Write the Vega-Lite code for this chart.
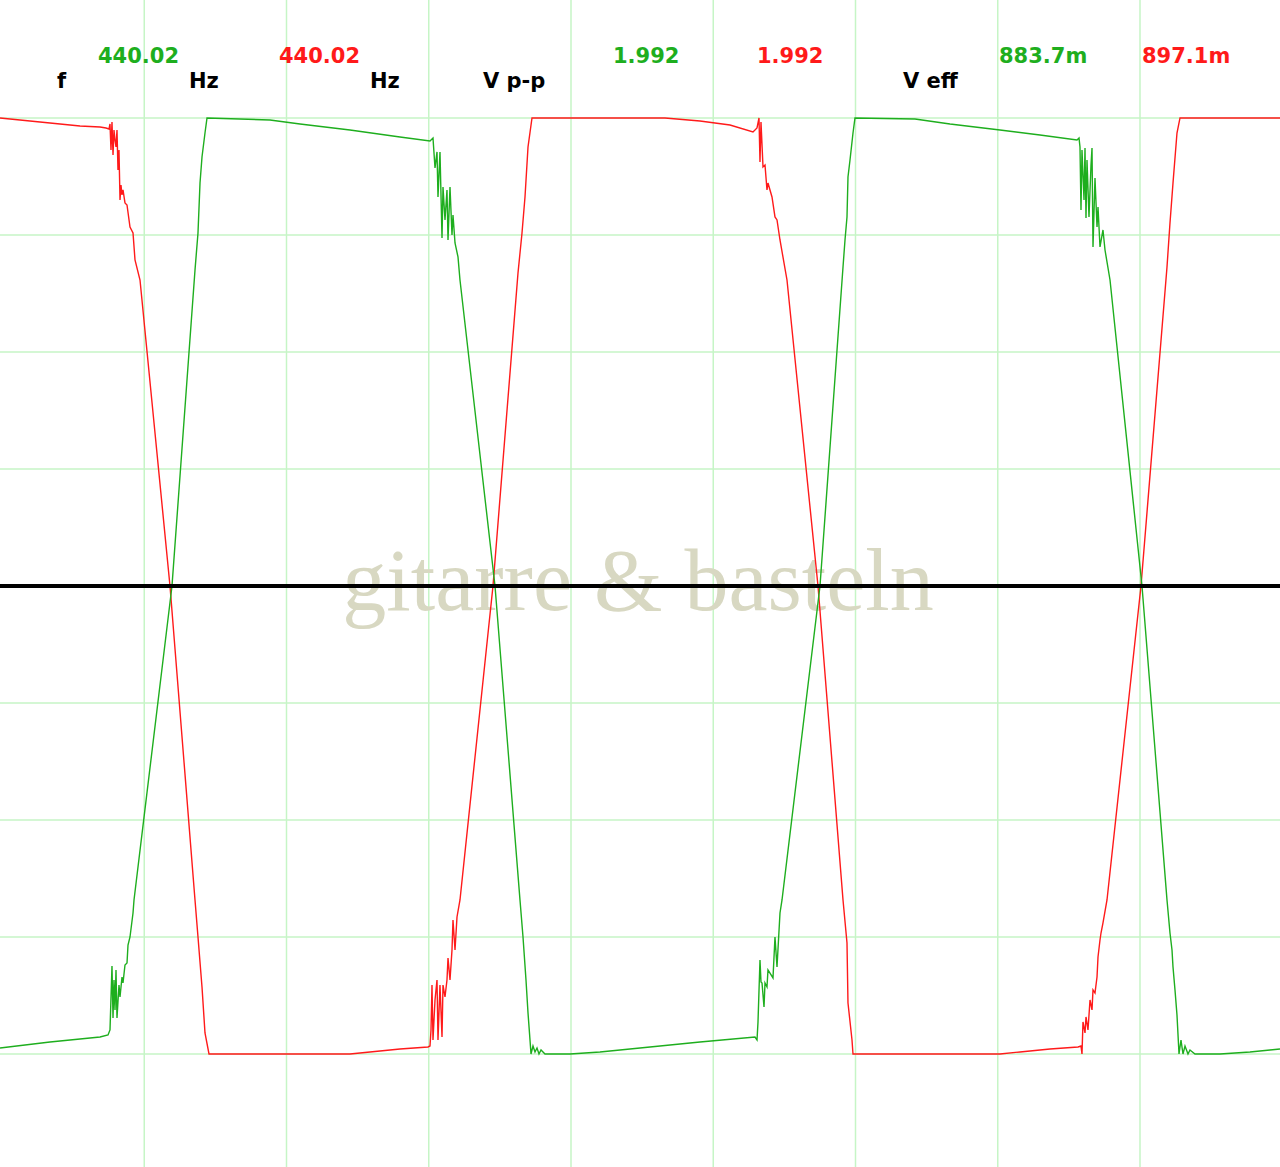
{
  "$schema": "https://vega.github.io/schema/vega-lite/v6.json",
  "width": 1280,
  "height": 1167,
  "autosize": {"type": "none"},
  "padding": 0,
  "background": "white",
  "config": {"view": {"stroke": null}},
  "datasets": {
    "gx": [{"t": 0.5}, {"t": 1.0}, {"t": 1.5}, {"t": 2.0}, {"t": 2.5}, {"t": 3.0}, {"t": 3.5}, {"t": 4.0}],
    "gy": [{"v": -1}, {"v": -0.75}, {"v": -0.5}, {"v": -0.25}, {"v": 0}, {"v": 0.25}, {"v": 0.5}, {"v": 0.75}, {"v": 1}],
    "zero": [{"v": 0}],
    "wm": [{"label": "gitarre & basteln", "t": 2.2355, "v": -0.0513}],
    "labels": [
      {"label": "f", "t": 0.1933, "v": 1.0641, "ch": "N"},
      {"label": "440.02", "t": 0.3374, "v": 1.1175, "ch": "L"},
      {"label": "Hz", "t": 0.6573, "v": 1.0641, "ch": "N"},
      {"label": "440.02", "t": 0.9736, "v": 1.1175, "ch": "R"},
      {"label": "Hz", "t": 1.2935, "v": 1.0641, "ch": "N"},
      {"label": "V p-p", "t": 1.6907, "v": 1.0641, "ch": "N"},
      {"label": "1.992", "t": 2.1476, "v": 1.1175, "ch": "L"},
      {"label": "1.992", "t": 2.6538, "v": 1.1175, "ch": "R"},
      {"label": "V eff", "t": 3.1670, "v": 1.0641, "ch": "N"},
      {"label": "883.7m", "t": 3.5044, "v": 1.1175, "ch": "L"},
      {"label": "897.1m", "t": 4.0070, "v": 1.1175, "ch": "R"}
    ],
    "traces": [
      {"t": -0.007, "v": 1.0, "ch": "R"},
      {"t": 0.0633, "v": 0.9957, "ch": "R"},
      {"t": 0.1336, "v": 0.9915, "ch": "R"},
      {"t": 0.2039, "v": 0.9872, "ch": "R"},
      {"t": 0.2742, "v": 0.9829, "ch": "R"},
      {"t": 0.3445, "v": 0.9808, "ch": "R"},
      {"t": 0.3656, "v": 0.9786, "ch": "R"},
      {"t": 0.3761, "v": 0.9765, "ch": "R"},
      {"t": 0.3796, "v": 0.9872, "ch": "R"},
      {"t": 0.3831, "v": 0.9316, "ch": "R"},
      {"t": 0.3866, "v": 0.9915, "ch": "R"},
      {"t": 0.3902, "v": 0.9209, "ch": "R"},
      {"t": 0.3937, "v": 0.9744, "ch": "R"},
      {"t": 0.3972, "v": 0.9530, "ch": "R"},
      {"t": 0.4007, "v": 0.9380, "ch": "R"},
      {"t": 0.4042, "v": 0.9744, "ch": "R"},
      {"t": 0.4077, "v": 0.8889, "ch": "R"},
      {"t": 0.4112, "v": 0.9316, "ch": "R"},
      {"t": 0.4148, "v": 0.8248, "ch": "R"},
      {"t": 0.4183, "v": 0.8568, "ch": "R"},
      {"t": 0.4218, "v": 0.8355, "ch": "R"},
      {"t": 0.4253, "v": 0.8462, "ch": "R"},
      {"t": 0.4323, "v": 0.8184, "ch": "R"},
      {"t": 0.4394, "v": 0.8141, "ch": "R"},
      {"t": 0.4499, "v": 0.7671, "ch": "R"},
      {"t": 0.4605, "v": 0.7543, "ch": "R"},
      {"t": 0.4675, "v": 0.6966, "ch": "R"},
      {"t": 0.4851, "v": 0.6538, "ch": "R"},
      {"t": 0.5905, "v": 0.0, "ch": "R"},
      {"t": 0.6784, "v": -0.6709, "ch": "R"},
      {"t": 0.6889, "v": -0.75, "ch": "R"},
      {"t": 0.7030, "v": -0.8568, "ch": "R"},
      {"t": 0.7135, "v": -0.9551, "ch": "R"},
      {"t": 0.7276, "v": -1.0, "ch": "R"},
      {"t": 1.2232, "v": -1.0, "ch": "R"},
      {"t": 1.3286, "v": -0.9936, "ch": "R"},
      {"t": 1.3989, "v": -0.9893, "ch": "R"},
      {"t": 1.4974, "v": -0.9850, "ch": "R"},
      {"t": 1.5044, "v": -0.9829, "ch": "R"},
      {"t": 1.5079, "v": -0.9487, "ch": "R"},
      {"t": 1.5114, "v": -0.8526, "ch": "R"},
      {"t": 1.5149, "v": -0.9701, "ch": "R"},
      {"t": 1.5220, "v": -0.8846, "ch": "R"},
      {"t": 1.5290, "v": -0.8419, "ch": "R"},
      {"t": 1.5325, "v": -0.9701, "ch": "R"},
      {"t": 1.5395, "v": -0.8526, "ch": "R"},
      {"t": 1.5466, "v": -0.9637, "ch": "R"},
      {"t": 1.5501, "v": -0.8526, "ch": "R"},
      {"t": 1.5571, "v": -0.8782, "ch": "R"},
      {"t": 1.5641, "v": -0.8419, "ch": "R"},
      {"t": 1.5677, "v": -0.7949, "ch": "R"},
      {"t": 1.5747, "v": -0.8419, "ch": "R"},
      {"t": 1.5817, "v": -0.7778, "ch": "R"},
      {"t": 1.5852, "v": -0.7137, "ch": "R"},
      {"t": 1.5923, "v": -0.7778, "ch": "R"},
      {"t": 1.5993, "v": -0.7073, "ch": "R"},
      {"t": 1.6098, "v": -0.6709, "ch": "R"},
      {"t": 1.7258, "v": 0.0, "ch": "R"},
      {"t": 1.8137, "v": 0.6688, "ch": "R"},
      {"t": 1.8278, "v": 0.7543, "ch": "R"},
      {"t": 1.8383, "v": 0.8312, "ch": "R"},
      {"t": 1.8489, "v": 0.9380, "ch": "R"},
      {"t": 1.8629, "v": 1.0, "ch": "R"},
      {"t": 2.3304, "v": 1.0, "ch": "R"},
      {"t": 2.4534, "v": 0.9936, "ch": "R"},
      {"t": 2.5589, "v": 0.9850, "ch": "R"},
      {"t": 2.6397, "v": 0.9701, "ch": "R"},
      {"t": 2.6538, "v": 0.9786, "ch": "R"},
      {"t": 2.6608, "v": 1.0, "ch": "R"},
      {"t": 2.6643, "v": 0.9060, "ch": "R"},
      {"t": 2.6678, "v": 0.9915, "ch": "R"},
      {"t": 2.6749, "v": 0.8953, "ch": "R"},
      {"t": 2.6819, "v": 0.8996, "ch": "R"},
      {"t": 2.6889, "v": 0.8462, "ch": "R"},
      {"t": 2.6924, "v": 0.8611, "ch": "R"},
      {"t": 2.7065, "v": 0.8312, "ch": "R"},
      {"t": 2.7170, "v": 0.7885, "ch": "R"},
      {"t": 2.7241, "v": 0.7821, "ch": "R"},
      {"t": 2.7346, "v": 0.7393, "ch": "R"},
      {"t": 2.7592, "v": 0.6538, "ch": "R"},
      {"t": 2.8682, "v": 0.0, "ch": "R"},
      {"t": 2.9561, "v": -0.6709, "ch": "R"},
      {"t": 2.9701, "v": -0.7628, "ch": "R"},
      {"t": 2.9736, "v": -0.8910, "ch": "R"},
      {"t": 2.9877, "v": -0.9701, "ch": "R"},
      {"t": 2.9912, "v": -1.0, "ch": "R"},
      {"t": 3.5079, "v": -1.0, "ch": "R"},
      {"t": 3.5782, "v": -0.9957, "ch": "R"},
      {"t": 3.6837, "v": -0.9893, "ch": "R"},
      {"t": 3.7821, "v": -0.9850, "ch": "R"},
      {"t": 3.7926, "v": -0.9829, "ch": "R"},
      {"t": 3.7961, "v": -1.0, "ch": "R"},
      {"t": 3.7996, "v": -0.9316, "ch": "R"},
      {"t": 3.8067, "v": -0.9551, "ch": "R"},
      {"t": 3.8102, "v": -0.9209, "ch": "R"},
      {"t": 3.8172, "v": -0.9487, "ch": "R"},
      {"t": 3.8243, "v": -0.8846, "ch": "R"},
      {"t": 3.8313, "v": -0.9060, "ch": "R"},
      {"t": 3.8348, "v": -0.8632, "ch": "R"},
      {"t": 3.8418, "v": -0.8697, "ch": "R"},
      {"t": 3.8489, "v": -0.8355, "ch": "R"},
      {"t": 3.8524, "v": -0.7927, "ch": "R"},
      {"t": 3.8594, "v": -0.7564, "ch": "R"},
      {"t": 3.8629, "v": -0.7415, "ch": "R"},
      {"t": 3.8699, "v": -0.7201, "ch": "R"},
      {"t": 3.8840, "v": -0.6709, "ch": "R"},
      {"t": 4.0035, "v": 0.0, "ch": "R"},
      {"t": 4.0949, "v": 0.6816, "ch": "R"},
      {"t": 4.1054, "v": 0.7756, "ch": "R"},
      {"t": 4.1160, "v": 0.8611, "ch": "R"},
      {"t": 4.1300, "v": 0.9679, "ch": "R"},
      {"t": 4.1406, "v": 1.0, "ch": "R"},
      {"t": 4.4921, "v": 1.0, "ch": "R"},

      {"t": -0.007, "v": -0.9872, "ch": "L"},
      {"t": 0.1687, "v": -0.9744, "ch": "L"},
      {"t": 0.3445, "v": -0.9637, "ch": "L"},
      {"t": 0.3726, "v": -0.9594, "ch": "L"},
      {"t": 0.3796, "v": -0.9487, "ch": "L"},
      {"t": 0.3866, "v": -0.8120, "ch": "L"},
      {"t": 0.3902, "v": -0.9231, "ch": "L"},
      {"t": 0.3937, "v": -0.8419, "ch": "L"},
      {"t": 0.3972, "v": -0.9060, "ch": "L"},
      {"t": 0.4007, "v": -0.8205, "ch": "L"},
      {"t": 0.4042, "v": -0.9231, "ch": "L"},
      {"t": 0.4112, "v": -0.8526, "ch": "L"},
      {"t": 0.4148, "v": -0.8782, "ch": "L"},
      {"t": 0.4218, "v": -0.8355, "ch": "L"},
      {"t": 0.4253, "v": -0.8483, "ch": "L"},
      {"t": 0.4323, "v": -0.8098, "ch": "L"},
      {"t": 0.4394, "v": -0.8056, "ch": "L"},
      {"t": 0.4429, "v": -0.7671, "ch": "L"},
      {"t": 0.4499, "v": -0.75, "ch": "L"},
      {"t": 0.4605, "v": -0.6987, "ch": "L"},
      {"t": 0.4640, "v": -0.6709, "ch": "L"},
      {"t": 0.5975, "v": 0.0, "ch": "L"},
      {"t": 0.6784, "v": 0.6752, "ch": "L"},
      {"t": 0.6889, "v": 0.7543, "ch": "L"},
      {"t": 0.6960, "v": 0.8611, "ch": "L"},
      {"t": 0.7030, "v": 0.9167, "ch": "L"},
      {"t": 0.7135, "v": 0.9679, "ch": "L"},
      {"t": 0.7206, "v": 1.0, "ch": "L"},
      {"t": 0.9420, "v": 0.9957, "ch": "L"},
      {"t": 1.0475, "v": 0.9872, "ch": "L"},
      {"t": 1.2232, "v": 0.9744, "ch": "L"},
      {"t": 1.3989, "v": 0.9594, "ch": "L"},
      {"t": 1.5044, "v": 0.9509, "ch": "L"},
      {"t": 1.5149, "v": 0.9573, "ch": "L"},
      {"t": 1.5220, "v": 0.8932, "ch": "L"},
      {"t": 1.5290, "v": 0.9274, "ch": "L"},
      {"t": 1.5325, "v": 0.8312, "ch": "L"},
      {"t": 1.5395, "v": 0.9274, "ch": "L"},
      {"t": 1.5466, "v": 0.7436, "ch": "L"},
      {"t": 1.5501, "v": 0.8526, "ch": "L"},
      {"t": 1.5571, "v": 0.7821, "ch": "L"},
      {"t": 1.5641, "v": 0.8462, "ch": "L"},
      {"t": 1.5677, "v": 0.7393, "ch": "L"},
      {"t": 1.5747, "v": 0.8526, "ch": "L"},
      {"t": 1.5817, "v": 0.75, "ch": "L"},
      {"t": 1.5852, "v": 0.7927, "ch": "L"},
      {"t": 1.5923, "v": 0.7329, "ch": "L"},
      {"t": 1.6028, "v": 0.7030, "ch": "L"},
      {"t": 1.6098, "v": 0.6538, "ch": "L"},
      {"t": 1.7329, "v": 0.0, "ch": "L"},
      {"t": 1.8207, "v": -0.6709, "ch": "L"},
      {"t": 1.8313, "v": -0.75, "ch": "L"},
      {"t": 1.8418, "v": -0.8419, "ch": "L"},
      {"t": 1.8489, "v": -0.9124, "ch": "L"},
      {"t": 1.8559, "v": -0.9701, "ch": "L"},
      {"t": 1.8594, "v": -1.0, "ch": "L"},
      {"t": 1.8664, "v": -0.9829, "ch": "L"},
      {"t": 1.8735, "v": -0.9957, "ch": "L"},
      {"t": 1.8805, "v": -0.9872, "ch": "L"},
      {"t": 1.8875, "v": -1.0, "ch": "L"},
      {"t": 1.8946, "v": -0.9915, "ch": "L"},
      {"t": 1.9086, "v": -1.0, "ch": "L"},
      {"t": 1.9965, "v": -1.0, "ch": "L"},
      {"t": 2.1019, "v": -0.9957, "ch": "L"},
      {"t": 2.2777, "v": -0.9850, "ch": "L"},
      {"t": 2.4534, "v": -0.9744, "ch": "L"},
      {"t": 2.6467, "v": -0.9637, "ch": "L"},
      {"t": 2.6538, "v": -0.9701, "ch": "L"},
      {"t": 2.6573, "v": -0.9316, "ch": "L"},
      {"t": 2.6643, "v": -0.7991, "ch": "L"},
      {"t": 2.6678, "v": -0.8462, "ch": "L"},
      {"t": 2.6714, "v": -0.8483, "ch": "L"},
      {"t": 2.6784, "v": -0.8996, "ch": "L"},
      {"t": 2.6819, "v": -0.8483, "ch": "L"},
      {"t": 2.6889, "v": -0.8568, "ch": "L"},
      {"t": 2.6924, "v": -0.8205, "ch": "L"},
      {"t": 2.7100, "v": -0.8376, "ch": "L"},
      {"t": 2.7170, "v": -0.75, "ch": "L"},
      {"t": 2.7241, "v": -0.8141, "ch": "L"},
      {"t": 2.7346, "v": -0.6987, "ch": "L"},
      {"t": 2.7417, "v": -0.6709, "ch": "L"},
      {"t": 2.8752, "v": 0.0, "ch": "L"},
      {"t": 2.9561, "v": 0.6816, "ch": "L"},
      {"t": 2.9631, "v": 0.7393, "ch": "L"},
      {"t": 2.9701, "v": 0.7885, "ch": "L"},
      {"t": 2.9736, "v": 0.8739, "ch": "L"},
      {"t": 2.9807, "v": 0.9103, "ch": "L"},
      {"t": 2.9912, "v": 0.9679, "ch": "L"},
      {"t": 2.9982, "v": 1.0, "ch": "L"},
      {"t": 3.2091, "v": 0.9979, "ch": "L"},
      {"t": 3.3322, "v": 0.9872, "ch": "L"},
      {"t": 3.5079, "v": 0.9744, "ch": "L"},
      {"t": 3.6485, "v": 0.9637, "ch": "L"},
      {"t": 3.7786, "v": 0.9530, "ch": "L"},
      {"t": 3.7856, "v": 0.9573, "ch": "L"},
      {"t": 3.7891, "v": 0.9380, "ch": "L"},
      {"t": 3.7926, "v": 0.8034, "ch": "L"},
      {"t": 3.7961, "v": 0.9316, "ch": "L"},
      {"t": 3.8032, "v": 0.8248, "ch": "L"},
      {"t": 3.8067, "v": 0.9359, "ch": "L"},
      {"t": 3.8102, "v": 0.7863, "ch": "L"},
      {"t": 3.8137, "v": 0.9103, "ch": "L"},
      {"t": 3.8207, "v": 0.7885, "ch": "L"},
      {"t": 3.8278, "v": 0.8996, "ch": "L"},
      {"t": 3.8313, "v": 0.9359, "ch": "L"},
      {"t": 3.8348, "v": 0.7244, "ch": "L"},
      {"t": 3.8418, "v": 0.8718, "ch": "L"},
      {"t": 3.8489, "v": 0.7671, "ch": "L"},
      {"t": 3.8524, "v": 0.8098, "ch": "L"},
      {"t": 3.8594, "v": 0.7244, "ch": "L"},
      {"t": 3.8699, "v": 0.7607, "ch": "L"},
      {"t": 3.8770, "v": 0.7179, "ch": "L"},
      {"t": 3.8946, "v": 0.6538, "ch": "L"},
      {"t": 4.0070, "v": 0.0, "ch": "L"},
      {"t": 4.0949, "v": -0.6709, "ch": "L"},
      {"t": 4.1054, "v": -0.7415, "ch": "L"},
      {"t": 4.1125, "v": -0.7778, "ch": "L"},
      {"t": 4.1160, "v": -0.8141, "ch": "L"},
      {"t": 4.1230, "v": -0.8632, "ch": "L"},
      {"t": 4.1300, "v": -0.9167, "ch": "L"},
      {"t": 4.1371, "v": -1.0, "ch": "L"},
      {"t": 4.1441, "v": -0.9701, "ch": "L"},
      {"t": 4.1511, "v": -1.0, "ch": "L"},
      {"t": 4.1582, "v": -0.9829, "ch": "L"},
      {"t": 4.1687, "v": -1.0, "ch": "L"},
      {"t": 4.1757, "v": -0.9915, "ch": "L"},
      {"t": 4.1933, "v": -1.0, "ch": "L"},
      {"t": 4.2812, "v": -1.0, "ch": "L"},
      {"t": 4.3866, "v": -0.9957, "ch": "L"},
      {"t": 4.4569, "v": -0.9915, "ch": "L"},
      {"t": 4.4921, "v": -0.9893, "ch": "L"}
    ]
  },
  "layer": [
    {
      "data": {"name": "gx"},
      "mark": {"type": "rule", "color": "#c6f5c6", "strokeWidth": 1.5},
      "encoding": {
        "x": {"field": "t", "type": "quantitative", "scale": {"domain": [-0.00703, 4.49209], "nice": false, "zero": false}, "axis": null}
      }
    },
    {
      "data": {"name": "gy"},
      "mark": {"type": "rule", "color": "#c6f5c6", "strokeWidth": 1.5},
      "encoding": {
        "y": {"field": "v", "type": "quantitative", "scale": {"domain": [-1.2415, 1.2521], "nice": false, "zero": false}, "axis": null}
      }
    },
    {
      "data": {"name": "wm"},
      "mark": {"type": "text", "font": "Liberation Serif", "fontSize": 88, "align": "center", "baseline": "alphabetic", "color": "#d8d8c2"},
      "encoding": {
        "x": {"field": "t", "type": "quantitative", "scale": {"domain": [-0.00703, 4.49209], "nice": false, "zero": false}, "axis": null},
        "y": {"field": "v", "type": "quantitative", "scale": {"domain": [-1.2415, 1.2521], "nice": false, "zero": false}, "axis": null},
        "text": {"field": "label", "type": "nominal"}
      }
    },
    {
      "data": {"name": "traces"},
      "mark": {"type": "line", "strokeWidth": 1.4, "interpolate": "linear"},
      "encoding": {
        "x": {"field": "t", "type": "quantitative", "scale": {"domain": [-0.00703, 4.49209], "nice": false, "zero": false}, "axis": null},
        "y": {"field": "v", "type": "quantitative", "scale": {"domain": [-1.2415, 1.2521], "nice": false, "zero": false}, "axis": null},
        "color": {"field": "ch", "type": "nominal", "scale": {"domain": ["L", "R", "N"], "range": ["#1eae1e", "#ff1a1a", "#000000"]}, "legend": null},
        "order": {"value": null}
      }
    },
    {
      "data": {"name": "zero"},
      "mark": {"type": "rule", "color": "#000000", "strokeWidth": 4},
      "encoding": {
        "y": {"field": "v", "type": "quantitative", "scale": {"domain": [-1.2415, 1.2521], "nice": false, "zero": false}, "axis": null}
      }
    },
    {
      "data": {"name": "labels"},
      "mark": {"type": "text", "font": "DejaVu Sans", "fontWeight": "bold", "fontSize": 21, "align": "left", "baseline": "alphabetic"},
      "encoding": {
        "x": {"field": "t", "type": "quantitative", "scale": {"domain": [-0.00703, 4.49209], "nice": false, "zero": false}, "axis": null},
        "y": {"field": "v", "type": "quantitative", "scale": {"domain": [-1.2415, 1.2521], "nice": false, "zero": false}, "axis": null},
        "text": {"field": "label", "type": "nominal"},
        "color": {"field": "ch", "type": "nominal", "scale": {"domain": ["L", "R", "N"], "range": ["#1eae1e", "#ff1a1a", "#000000"]}, "legend": null}
      }
    }
  ]
}
